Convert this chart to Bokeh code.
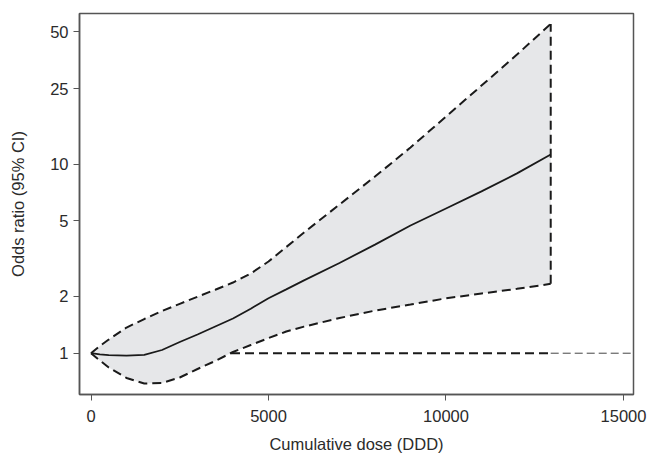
from bokeh.plotting import figure
from bokeh.models import FixedTicker, NumeralTickFormatter, Range1d, ColumnDataSource
from bokeh.embed import file_html
from bokeh.resources import INLINE

# Data
dose = [0, 250, 500, 1000, 1500, 2000, 2500, 3000, 3500, 4000, 4500, 5000,
        5500, 6000, 7000, 8000, 9000, 10000, 11000, 12000, 12950]
odds_ratio = [1.0, 0.987, 0.978, 0.972, 0.981, 1.04, 1.146, 1.256, 1.384,
              1.525, 1.72, 1.953, 2.176, 2.428, 3.0, 3.75, 4.73, 5.82,
              7.17, 8.93, 11.23]
ci_upper = [1.0, 1.092, 1.181, 1.367, 1.516, 1.671, 1.824, 1.989, 2.166,
            2.364, 2.638, 3.053, 3.641, 4.345, 6.108, 8.589, 12.23, 17.82,
            25.99, 37.91, 55.08]
ci_lower = [1.0, 0.915, 0.84, 0.74, 0.692, 0.696, 0.744, 0.825, 0.91,
            1.015, 1.105, 1.202, 1.302, 1.382, 1.535, 1.68, 1.809, 1.951,
            2.068, 2.19, 2.327]
ref_level = 1.0
x_ticks = [0, 5000, 10000, 15000]
y_ticks = [1, 2, 5, 10, 25, 50]

FONT = "Liberation Sans"
INK = "#1a1a1a"
AXIS = "#555555"
TEXT = "#2b2b2b"

src = ColumnDataSource(dict(dose=dose, orr=odds_ratio, up=ci_upper, lo=ci_lower))

x_lo, x_hi = -324, 15282
p = figure(width=647, height=456, y_axis_type="log",
           x_range=Range1d(x_lo, x_hi), y_range=Range1d(0.605, 62.5),
           output_backend="svg", toolbar_location=None,
           min_border_left=79, min_border_right=14, min_border_top=13,
           min_border_bottom=62)

# reference line at OR = 1
p.line([dose[0], dose[-1]], [ref_level, ref_level], line_color=INK,
       line_width=2, line_dash="9 5")
p.line([dose[-1], x_hi], [ref_level, ref_level], line_color="#444444",
       line_width=1, line_dash="8 4")

# confidence band
p.varea(x="dose", y1="lo", y2="up", source=src, fill_color="#e6e7e9")
p.line(x="dose", y="up", source=src, line_color=INK, line_width=2, line_dash="9 5")
p.line(x="dose", y="lo", source=src, line_color=INK, line_width=2, line_dash="9 5")
p.line([dose[-1], dose[-1]], [ci_lower[-1], ci_upper[-1]], line_color=INK,
       line_width=2, line_dash="9 5")
p.line(x="dose", y="orr", source=src, line_color=INK, line_width=1.8)

p.xgrid.visible = False
p.ygrid.visible = False
p.outline_line_color = AXIS
p.outline_line_width = 1.5

p.xaxis.ticker = FixedTicker(ticks=x_ticks)
p.yaxis.ticker = FixedTicker(ticks=y_ticks)
p.xaxis.formatter = NumeralTickFormatter(format="0")
p.yaxis.formatter = NumeralTickFormatter(format="0")
p.xaxis.axis_label = "Cumulative dose (DDD)"
p.yaxis.axis_label = "Odds ratio (95% CI)"

for ax in (p.xaxis[0], p.yaxis[0]):
    ax.axis_line_color = AXIS
    ax.axis_line_width = 1.5
    ax.major_tick_line_color = AXIS
    ax.major_tick_in = 0
    ax.major_tick_out = 6
    ax.minor_tick_line_color = None
    ax.major_label_text_font = FONT
    ax.major_label_text_font_size = "16.5px"
    ax.major_label_text_color = TEXT
    ax.axis_label_text_font = FONT
    ax.axis_label_text_font_size = "16.5px"
    ax.axis_label_text_font_style = "normal"
    ax.axis_label_text_color = TEXT

p.xaxis.major_label_standoff = 9
p.xaxis.axis_label_standoff = 10
p.yaxis.major_label_standoff = 5
p.yaxis.axis_label_standoff = 20
p.yaxis.major_label_orientation = "horizontal"

open("out.html", "w").write(file_html(p, INLINE))
